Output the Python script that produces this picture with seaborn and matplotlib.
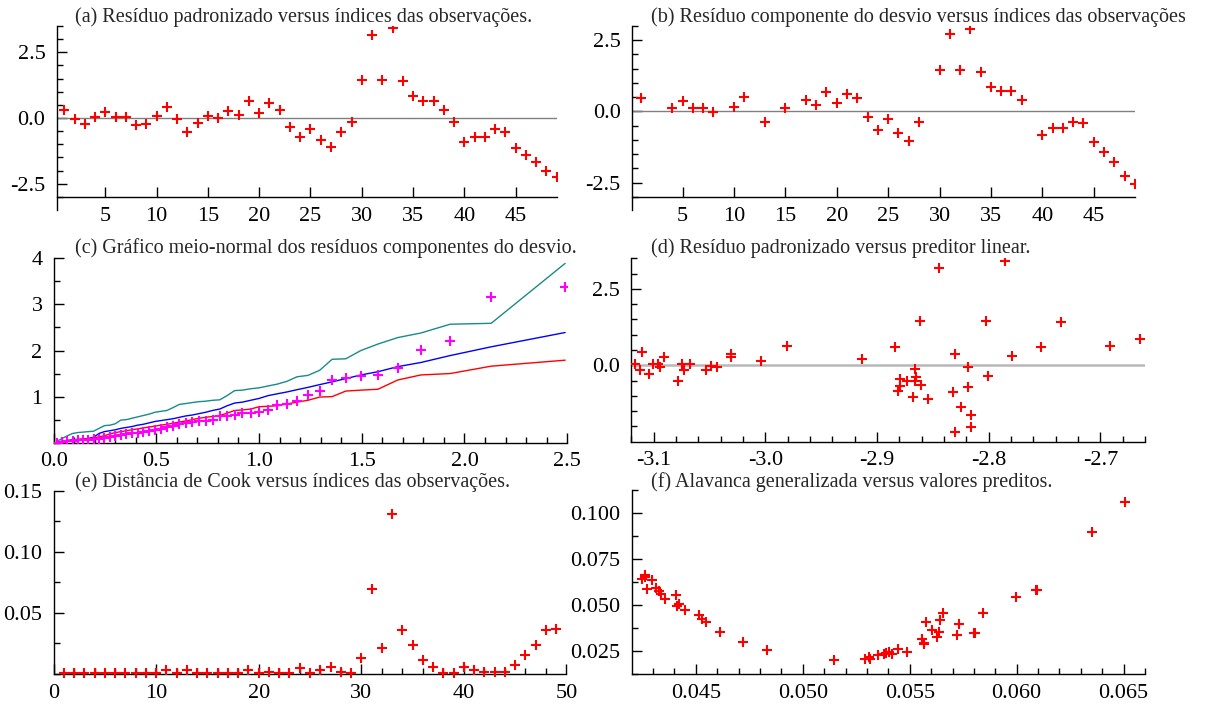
import numpy as np
import matplotlib
matplotlib.use("Agg")
import matplotlib.pyplot as plt
import seaborn as sns

# (a) residuo padronizado por indice
idx = list(range(1, 50))
res_pad = [0.31, -0.05, -0.23, 0.03, 0.24, 0.05, 0.05, -0.27, -0.22, 0.06,
           0.43, -0.05, -0.54, -0.20, 0.06, 0.00, 0.26, 0.10, 0.63, 0.18,
           0.56, 0.31, -0.33, -0.71, -0.43, -0.84, -1.11, -0.52, -0.14, 1.44,
           3.15, 1.44, 3.42, 1.39, 0.82, 0.64, 0.64, 0.31, -0.15, -0.93,
           -0.71, -0.71, -0.43, -0.52, -1.15, -1.40, -1.67, -2.03, -2.24]

# (b) residuo componente do desvio (nan = ponto ausente)
nan = np.nan
res_desvio = [0.46, nan, nan, 0.11, 0.35, 0.11, 0.11, -0.02, nan, 0.16,
              0.51, nan, -0.36, nan, 0.11, nan, 0.41, 0.22, 0.70, 0.28,
              0.63, 0.46, -0.19, -0.65, -0.28, -0.77, -1.02, -0.36, nan, 1.45,
              2.73, 1.45, 2.91, 1.39, 0.86, 0.71, 0.71, 0.40, nan, -0.83,
              -0.58, -0.58, -0.36, -0.42, -1.06, -1.41, -1.76, -2.27, -2.56]

# (c) grafico meio-normal: quantis, residuos ordenados e envelope
quantis = [0.016, 0.041, 0.067, 0.092, 0.118, 0.144, 0.169, 0.195, 0.221, 0.247,
           0.274, 0.300, 0.327, 0.354, 0.381, 0.409, 0.437, 0.465, 0.493, 0.522,
           0.552, 0.581, 0.612, 0.643, 0.674, 0.707, 0.740, 0.774, 0.809, 0.844,
           0.881, 0.919, 0.959, 1.000, 1.043, 1.088, 1.135, 1.185, 1.238, 1.295,
           1.356, 1.422, 1.496, 1.579, 1.675, 1.788, 1.930, 2.130, 2.490]
res_ord = [0.00, 0.02, 0.03, 0.04, 0.05, 0.05, 0.06, 0.07, 0.09, 0.11,
           0.13, 0.14, 0.16, 0.18, 0.20, 0.21, 0.23, 0.25, 0.28, 0.30,
           0.33, 0.36, 0.41, 0.43, 0.45, 0.47, 0.48, 0.50, 0.57, 0.58,
           0.61, 0.64, 0.64, 0.67, 0.71, 0.81, 0.83, 0.90, 1.04, 1.12,
           1.37, 1.40, 1.45, 1.47, 1.63, 2.02, 2.20, 3.17, 3.38]
env_sup = [0.03, 0.09, 0.15, 0.20, 0.22, 0.23, 0.24, 0.25, 0.31, 0.37,
           0.38, 0.41, 0.49, 0.50, 0.53, 0.56, 0.59, 0.62, 0.66, 0.68,
           0.70, 0.76, 0.83, 0.85, 0.87, 0.89, 0.90, 0.92, 0.93, 1.02,
           1.13, 1.14, 1.17, 1.19, 1.23, 1.27, 1.33, 1.43, 1.46, 1.57,
           1.81, 1.82, 2.00, 2.14, 2.28, 2.38, 2.57, 2.59, 3.89]
env_med = [0.01, 0.03, 0.05, 0.06, 0.07, 0.08, 0.09, 0.12, 0.20, 0.24,
           0.26, 0.28, 0.31, 0.33, 0.35, 0.38, 0.40, 0.43, 0.46, 0.48,
           0.50, 0.52, 0.55, 0.58, 0.60, 0.63, 0.66, 0.70, 0.73, 0.80,
           0.86, 0.88, 0.92, 0.96, 1.02, 1.06, 1.10, 1.15, 1.20, 1.26,
           1.32, 1.39, 1.47, 1.54, 1.65, 1.74, 1.89, 2.08, 2.39]
env_inf = [0.00, 0.02, 0.04, 0.06, 0.07, 0.08, 0.09, 0.10, 0.13, 0.15,
           0.19, 0.22, 0.24, 0.26, 0.28, 0.30, 0.32, 0.34, 0.36, 0.38,
           0.40, 0.42, 0.45, 0.47, 0.50, 0.53, 0.55, 0.57, 0.59, 0.64,
           0.70, 0.71, 0.73, 0.78, 0.79, 0.80, 0.84, 0.88, 0.92, 0.99,
           1.00, 1.12, 1.14, 1.16, 1.36, 1.47, 1.50, 1.66, 1.79]

# (d) residuo padronizado vs preditor linear
pred_lin = [-3.1164, -3.1125, -3.1104, -3.1042, -3.1006, -3.0961, -3.0940, -3.0907,
            -3.0779, -3.0749, -3.0728, -3.0675, -3.0534, -3.0484, -3.0430, -3.0304,
            -3.0304, -3.0042, -2.9806, -2.9134, -2.8842, -2.8663, -2.8791, -2.8731,
            -2.8663, -2.8648, -2.8797, -2.8815, -2.8609, -2.8678, -2.8546, -2.8612,
            -2.8448, -2.8301, -2.8319, -2.8185, -2.8185, -2.8251, -2.8155, -2.8155,
            -2.8301, -2.8021, -2.8006, -2.7857, -2.7794, -2.7528, -2.7349, -2.6910,
            -2.6648]
res_pred = [0.04, -0.17, 0.42, -0.27, 0.05, 0.05, -0.07, 0.26,
            -0.50, 0.05, -0.17, 0.05, -0.17, -0.01, -0.07, 0.37,
            0.26, 0.15, 0.64, 0.21, 0.59, -0.12, -0.45, -0.50,
            -0.50, -0.38, -0.68, -0.85, -0.65, -1.03, -1.11, 1.46,
            3.18, 0.37, -0.88, -0.07, -0.72, -1.37, -1.63, -2.02,
            -2.18, 1.46, -0.34, 3.40, 0.32, 0.59, 1.40, 0.64,
            0.86]

# (e) distancia de Cook
cook = [0.0005, 0.0005, 0.0005, 0.0005, 0.0005, 0.0005, 0.0005, 0.0005, 0.0005, 0.0010,
        0.0033, 0.0005, 0.0033, 0.0005, 0.0005, 0.0005, 0.0005, 0.0005, 0.0033, 0.0010,
        0.0019, 0.0005, 0.0005, 0.0049, 0.0005, 0.0030, 0.0057, 0.0019, 0.0005, 0.0128,
        0.0694, 0.0209, 0.1306, 0.0356, 0.0237, 0.0114, 0.0057, 0.0008, 0.0005, 0.0060,
        0.0033, 0.0019, 0.0019, 0.0019, 0.0073, 0.0152, 0.0237, 0.0356, 0.0370]

# (f) alavanca generalizada vs valores preditos
preditos = [0.04249, 0.04261, 0.04262, 0.04272, 0.04295, 0.04314, 0.04326, 0.04337,
            0.04357, 0.04407, 0.04412, 0.04422, 0.04450, 0.04516, 0.04528, 0.04547,
            0.04612, 0.04720, 0.04833, 0.05148, 0.05293, 0.05308, 0.05313, 0.05350,
            0.05379, 0.05391, 0.05405, 0.05416, 0.05447, 0.05489, 0.05558, 0.05565,
            0.05569, 0.05575, 0.05604, 0.05628, 0.05639, 0.05643, 0.05654, 0.05721,
            0.05731, 0.05801, 0.05807, 0.05841, 0.05995, 0.06092, 0.06095, 0.06352,
            0.06508]
alavanca = [0.0641, 0.0663, 0.0655, 0.0589, 0.0638, 0.0592, 0.0578, 0.0562,
            0.0534, 0.0553, 0.0498, 0.0507, 0.0471, 0.0447, 0.0424, 0.0408,
            0.0353, 0.0299, 0.0254, 0.0201, 0.0208, 0.0217, 0.0208, 0.0228,
            0.0236, 0.0239, 0.0246, 0.0236, 0.0263, 0.0246, 0.0315, 0.0293,
            0.0286, 0.0408, 0.0362, 0.0326, 0.0355, 0.0417, 0.0455, 0.0337,
            0.0400, 0.0348, 0.0346, 0.0455, 0.0545, 0.0580, 0.0582, 0.0897,
            0.1060]

titulos = ["(a) Resíduo padronizado versus índices das observações.",
           "(b) Resíduo componente do desvio versus índices das observações",
           "(c) Gráfico meio-normal dos resíduos componentes do desvio.",
           "(d) Resíduo padronizado versus preditor linear.",
           "(e) Distância de Cook versus índices das observações.",
           "(f) Alavanca generalizada versus valores preditos."]

sns.set_style("ticks")
plt.rcParams['font.family'] = ['Liberation Serif', 'DejaVu Serif']
plt.rcParams['axes.unicode_minus'] = False

W, H = 1213, 707
fig = plt.figure(figsize=(W / 100, H / 100), dpi=100)


def rect(l, r, t, b):
    return [l / W, 1 - b / H, (r - l) / W, (b - t) / H]


def estilo(ax, xlim, ylim):
    ax.set_xlim(*xlim)
    ax.set_ylim(*ylim)
    for s in ['top', 'right']:
        ax.spines[s].set_visible(False)
    for s in ['left', 'bottom']:
        ax.spines[s].set_linewidth(1.0)
        ax.spines[s].set_color('black')
    ax.tick_params(which='both', direction='in', colors='black', width=1.0,
                   labelsize=16)
    ax.tick_params(which='major', length=7)
    ax.tick_params(which='minor', length=4)
    ax.tick_params(axis='x', pad=7)
    ax.tick_params(axis='y', pad=8)
    ax.set_xlabel('')
    ax.set_ylabel('')


CRUZ = dict(marker='+', s=45, linewidth=1.5, legend=False)

# (a)
ax = fig.add_axes(rect(56.6, 556.7, 26, 210))
ax.axhline(0, color='0.5', lw=1.0, zorder=1)
sns.scatterplot(x=idx, y=res_pad, color='red', ax=ax, zorder=3, **CRUZ)
estilo(ax, (0.25, 49.0), (-3.5, 3.5))
ax.spines['bottom'].set_position(('data', -3))
ax.set_xticks([5, 10, 15, 20, 25, 30, 35, 40, 45])
ax.set_yticks([-2.5, 0, 2.5], labels=['-2.5', '0.0', '2.5'])
ax.set_yticks(np.arange(-3.0, 3.51, 0.5), minor=True)

# (b)
ax = fig.add_axes(rect(631.7, 1134.8, 26, 210))
ax.axhline(0, color='0.5', lw=1.0, zorder=1)
sns.scatterplot(x=idx, y=res_desvio, color='red', ax=ax, zorder=3, **CRUZ)
estilo(ax, (0.05, 49.0), (-3.46, 3.0))
ax.spines['bottom'].set_position(('data', -3))
ax.set_xticks([5, 10, 15, 20, 25, 30, 35, 40, 45])
ax.set_yticks([-2.5, 0, 2.5], labels=['-2.5', '0.0', '2.5'])
ax.set_yticks(np.arange(-3.0, 3.01, 0.5), minor=True)

# (c)
ax = fig.add_axes(rect(53.6, 567.2, 258.3, 442.7))
sns.lineplot(x=quantis, y=env_sup, color='#1a8a8a', lw=1.0, ax=ax, sort=False, estimator=None)
sns.lineplot(x=quantis, y=env_med, color='blue', lw=1.0, ax=ax, sort=False, estimator=None)
sns.lineplot(x=quantis, y=env_inf, color='red', lw=1.0, ax=ax, sort=False, estimator=None)
sns.scatterplot(x=quantis, y=res_ord, color='magenta', ax=ax, zorder=3,
                **{**CRUZ, 's': 55})
estilo(ax, (0, 2.5), (0, 4))
ax.set_xticks([0, 0.5, 1.0, 1.5, 2.0, 2.5], labels=['0.0', '0.5', '1.0', '1.5', '2.0', '2.5'])
ax.set_xticks(np.arange(0, 2.51, 0.1), minor=True)
ax.set_yticks([1, 2, 3, 4], labels=['1', '2', '3', '4'])
ax.set_yticks(np.arange(0, 4.01, 0.5), minor=True)

# (d)
ax = fig.add_axes(rect(631.3, 1145, 258.3, 441.7))
ax.axhline(0, color='0.72', lw=1.8, zorder=1)
sns.scatterplot(x=pred_lin, y=res_pred, color='red', ax=ax, zorder=3, **CRUZ)
estilo(ax, (-3.12, -2.66), (-2.5, 3.5))
ax.set_xticks([-3.1, -3.0, -2.9, -2.8, -2.7], labels=['-3.1', '-3.0', '-2.9', '-2.8', '-2.7'])
ax.set_xticks(np.arange(-3.12, -2.659, 0.02), minor=True)
ax.set_yticks([0, 2.5], labels=['0.0', '2.5'])
ax.set_yticks(np.arange(-2.0, 3.51, 0.5), minor=True)

# (e)
ax = fig.add_axes(rect(53.6, 566.4, 490.7, 674))
sns.scatterplot(x=idx, y=cook, color='red', ax=ax, zorder=3, clip_on=False, **CRUZ)
estilo(ax, (0, 50), (0, 0.15))
ax.set_xticks([0, 10, 20, 30, 40, 50])
ax.set_xticks(np.arange(0, 50.1, 2), minor=True)
ax.set_yticks([0.05, 0.10, 0.15], labels=['0.05', '0.10', '0.15'])
ax.set_yticks(np.arange(0, 0.151, 0.025), minor=True)

# (f)
ax = fig.add_axes(rect(631.7, 1145, 490, 674))
sns.scatterplot(x=preditos, y=alavanca, color='red', ax=ax, zorder=3, **CRUZ)
estilo(ax, (0.0420, 0.0660), (0.0127, 0.1127))
ax.set_xticks([0.045, 0.050, 0.055, 0.060, 0.065],
              labels=['0.045', '0.050', '0.055', '0.060', '0.065'])
ax.set_xticks(np.arange(0.043, 0.0661, 0.001), minor=True)
ax.set_yticks([0.025, 0.050, 0.075, 0.100], labels=['0.025', '0.050', '0.075', '0.100'])
ax.set_yticks(np.arange(0.0125, 0.1126, 0.0125), minor=True)

# titulos alinhados a esquerda
pos_tit = [(74.6, 16.7), (650.8, 16.7), (74.6, 248.3),
           (650.8, 248.3), (74.6, 481.7), (650.8, 481.7)]
for (x, y), t in zip(pos_tit, titulos):
    fig.text(x / W, 1 - y / H, t, ha='left', va='center', fontsize=14.5)

fig.savefig("out.png", dpi=100)
